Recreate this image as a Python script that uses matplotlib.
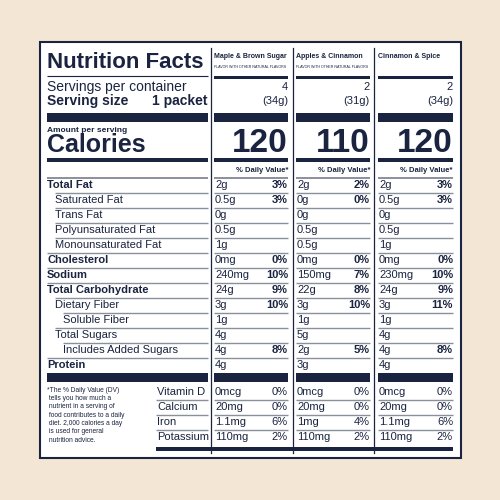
import matplotlib.pyplot as plt
from matplotlib.patches import Rectangle

# ===============================
# DATA
# ===============================
products = ["Maple & Brown Sugar", "Apples & Cinnamon", "Cinnamon & Spice"]
subtitles = ["FLAVOR WITH OTHER NATURAL FLAVORS", "FLAVOR WITH OTHER NATURAL FLAVORS", ""]
servings = ["4", "2", "2"]
serving_g = ["(34g)", "(31g)", "(34g)"]
calories = ["120", "110", "120"]

nutrients = ["Total Fat", "Saturated Fat", "Trans Fat", "Polyunsaturated Fat",
             "Monounsaturated Fat", "Cholesterol", "Sodium", "Total Carbohydrate",
             "Dietary Fiber", "Soluble Fiber", "Total Sugars", "Includes Added Sugars",
             "Protein"]
indent = [0, 1, 1, 1, 1, 0, 0, 0, 1, 2, 1, 2, 0]
amounts = [
    ["2g", "0.5g", "0g", "0.5g", "1g", "0mg", "240mg", "24g", "3g", "1g", "4g", "4g", "4g"],
    ["2g", "0g", "0g", "0.5g", "0.5g", "0mg", "150mg", "22g", "3g", "1g", "5g", "2g", "3g"],
    ["2g", "0.5g", "0g", "0.5g", "1g", "0mg", "230mg", "24g", "3g", "1g", "4g", "4g", "4g"],
]
dv = [
    ["3%", "3%", "", "", "", "0%", "10%", "9%", "10%", "", "", "8%", ""],
    ["2%", "0%", "", "", "", "0%", "7%", "8%", "10%", "", "", "5%", ""],
    ["3%", "3%", "", "", "", "0%", "10%", "9%", "11%", "", "", "8%", ""],
]

vitamins = ["Vitamin D", "Calcium", "Iron", "Potassium"]
vit_amounts = [
    ["0mcg", "20mg", "1.1mg", "110mg"],
    ["0mcg", "20mg", "1mg", "110mg"],
    ["0mcg", "20mg", "1.1mg", "110mg"],
]
vit_dv = [
    ["0%", "0%", "6%", "2%"],
    ["0%", "0%", "4%", "2%"],
    ["0%", "0%", "6%", "2%"],
]
footnote = ("*The % Daily Value (DV)\n tells you how much a\n nutrient in a serving of\n"
            " food contributes to a daily\n diet. 2,000 calories a day\n is used for general\n"
            " nutrition advice.")

# ===============================
# LAYOUT
# ===============================
NAVY = "#1a2440"
GREY = "#8a8f9c"
BG = "#f3e6d5"
plt.rcParams["font.family"] = ["Liberation Sans", "DejaVu Sans"]

fig = plt.figure(figsize=(5, 5), dpi=100, facecolor=BG)
ax = fig.add_axes([0, 0, 1, 1])
ax.set_xlim(0, 500)
ax.set_ylim(500, 0)
ax.axis("off")

ax.add_patch(Rectangle((40, 42), 421, 416, facecolor="white", edgecolor=NAVY, lw=1.5))

LX0, LX1 = 47, 208
cols = [(214, 288), (296, 370), (378, 453)]
seps = [211, 293, 374]


def bar(x0, x1, y, h):
    ax.add_patch(Rectangle((x0, y - h / 2), x1 - x0, h, facecolor=NAVY, lw=0))


def line(x0, x1, y, c=GREY, w=1.0):
    ax.plot([x0, x1], [y, y], color=c, lw=w, solid_capstyle="butt")


for s in seps:
    ax.plot([s, s], [48, 453], color=NAVY, lw=0.9)

# header
ax.text(LX0, 63, "Nutrition Facts", fontsize=16, fontweight="bold", color=NAVY, va="center")
line(LX0, LX1, 76, NAVY, 0.8)
ax.text(LX0, 87, "Servings per container", fontsize=10, color=NAVY, va="center")
ax.text(LX0, 101, "Serving size", fontsize=10, fontweight="bold", color=NAVY, va="center")
ax.text(LX1, 101, "1 packet", fontsize=10, fontweight="bold", color=NAVY, va="center", ha="right")
bar(LX0, LX1, 117, 9)
ax.text(LX0, 130, "Amount per serving", fontsize=6, fontweight="bold", color=NAVY, va="center")
ax.text(LX0, 145, "Calories", fontsize=18, fontweight="bold", color=NAVY, va="center")
bar(LX0, LX1, 160, 4)

for i, (x0, x1) in enumerate(cols):
    ax.text(x0, 56, products[i], fontsize=5.0, fontweight="bold", color=NAVY, va="center")
    if subtitles[i]:
        ax.text(x0, 67, subtitles[i], fontsize=2.6, color=NAVY, va="center")
    bar(x0, x1, 77, 3)
    ax.text(x1, 87, servings[i], fontsize=8, color=NAVY, va="center", ha="right")
    ax.text(x1, 101, serving_g[i], fontsize=8, color=NAVY, va="center", ha="right")
    bar(x0, x1, 117, 9)
    ax.text(x1, 143, calories[i], fontsize=24, fontweight="bold", color=NAVY, va="center", ha="right")
    bar(x0, x1, 160, 4)
    ax.text(x1, 171, "% Daily Value*", fontsize=5.5, fontweight="bold", color=NAVY, va="center", ha="right")

# nutrient rows
y0, dy = 185, 15
for xs in [(LX0, LX1)] + cols:
    line(xs[0], xs[1], 178, GREY, 1.4)
for r, name in enumerate(nutrients):
    y = y0 + r * dy
    bold = indent[r] == 0
    ax.text(LX0 + indent[r] * 8, y, name, fontsize=8, color=NAVY, va="center",
            fontweight="bold" if bold else "normal")
    if r < len(nutrients) - 1:
        nxt = indent[r + 1]
        line(LX0 + nxt * 8, LX1, y + dy / 2)
        for x0, x1 in cols:
            line(x0, x1, y + dy / 2)
    for i, (x0, x1) in enumerate(cols):
        ax.text(x0 + 1, y, amounts[i][r], fontsize=8, color=NAVY, va="center")
        ax.text(x1, y, dv[i][r], fontsize=8, fontweight="bold", color=NAVY, va="center", ha="right")

yb = y0 + len(nutrients) * dy - 3
bar(LX0, LX1, yb, 9)
for x0, x1 in cols:
    bar(x0, x1, yb, 9)

# vitamins
vy0 = yb + 15
ax.text(LX0, vy0 - 5, footnote, fontsize=4.8, color=NAVY, va="top", linespacing=1.25)
for r, name in enumerate(vitamins):
    y = vy0 + r * dy
    ax.text(157, y, name, fontsize=8, color=NAVY, va="center")
    if r < len(vitamins) - 1:
        line(156, LX1, y + dy / 2)
        for x0, x1 in cols:
            line(x0, x1, y + dy / 2)
    for i, (x0, x1) in enumerate(cols):
        ax.text(x0 + 1, y, vit_amounts[i][r], fontsize=8, color=NAVY, va="center")
        ax.text(x1, y, vit_dv[i][r], fontsize=8, color=NAVY, va="center", ha="right")
bar(156, 453, vy0 + 3 * dy + 12, 4)

fig.savefig("out.png", dpi=100, facecolor=BG)
